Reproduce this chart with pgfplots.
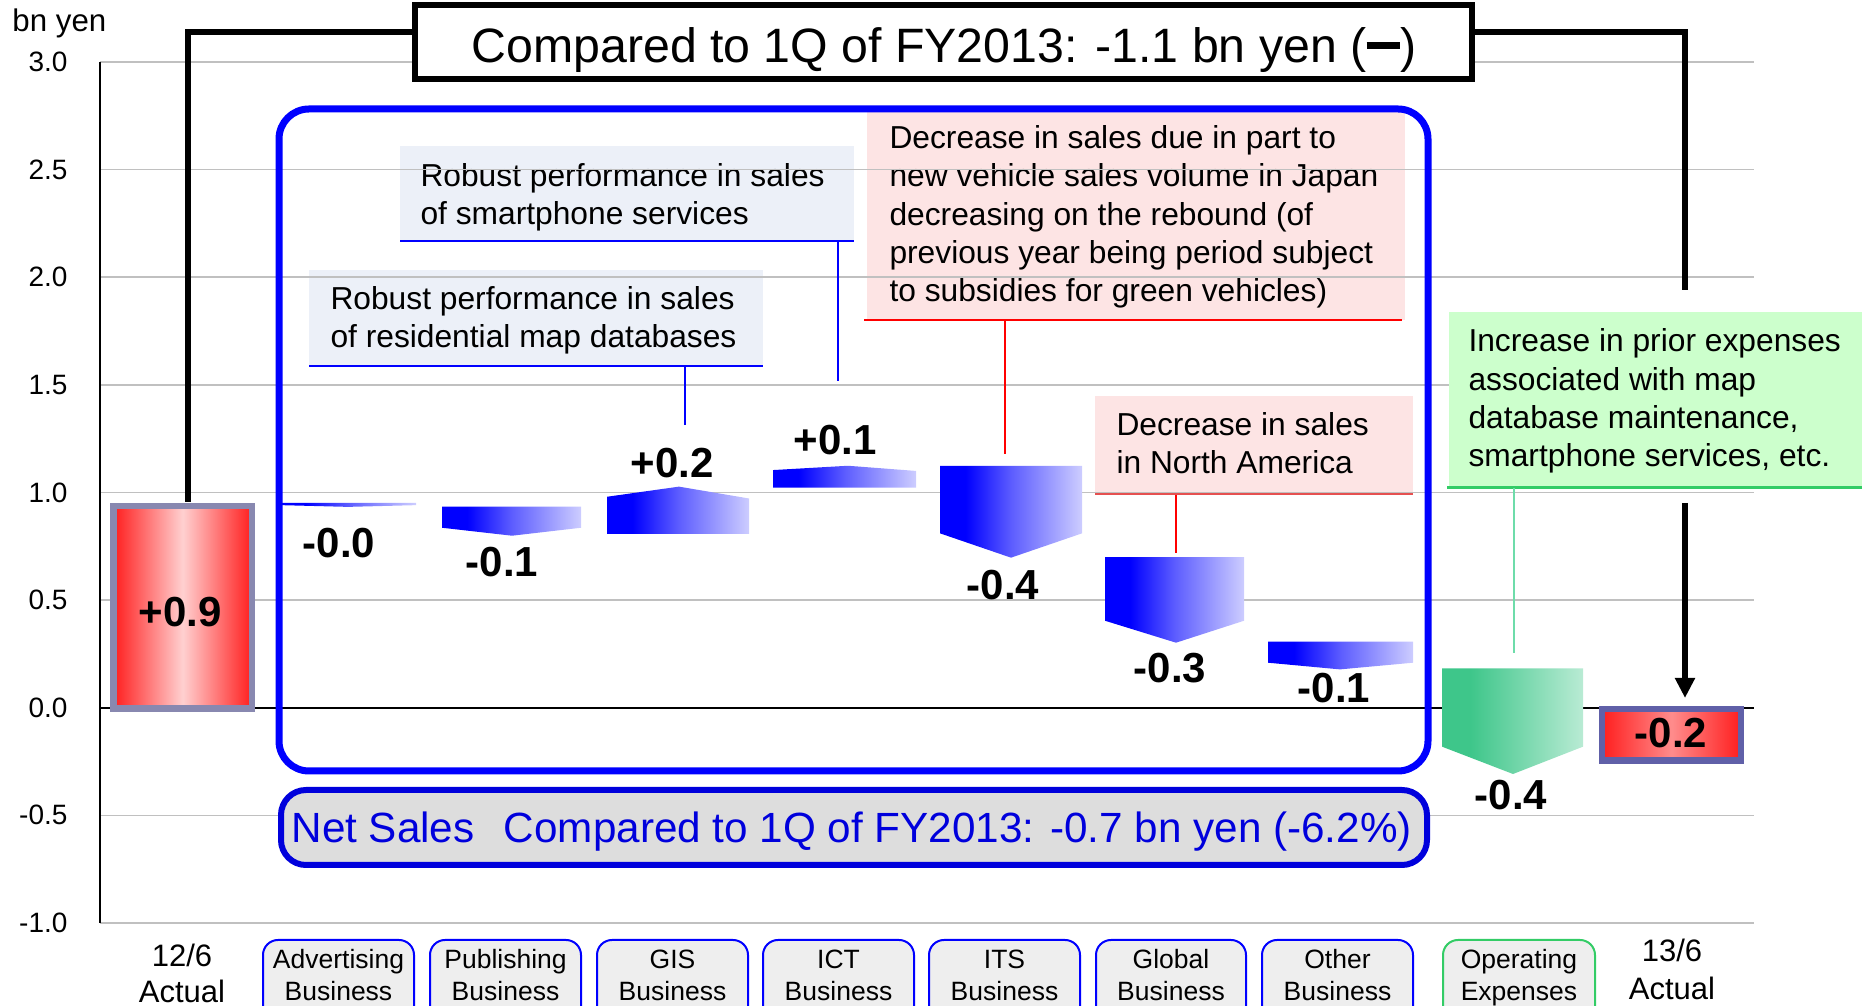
\documentclass[border=0pt]{standalone}
\usepackage{pgfplots}
\pgfplotsset{compat=1.18}
\usepackage{fontspec}
\setmainfont{Liberation Sans}
\usetikzlibrary{arrows.meta}
\definecolor{gridgray}{RGB}{192,192,192}
\definecolor{netblue}{RGB}{0,0,220}
\definecolor{netfill}{RGB}{221,221,221}
\definecolor{boxblue}{RGB}{236,240,248}
\definecolor{pinkfill}{RGB}{253,228,228}
\definecolor{pinkline}{RGB}{230,80,80}
\definecolor{greenfill}{RGB}{204,255,204}
\definecolor{greenline}{RGB}{51,204,102}
\definecolor{greenlead}{RGB}{110,220,170}
\definecolor{labfill}{RGB}{238,238,238}
\definecolor{frameA}{RGB}{136,136,176}
\definecolor{frameB}{RGB}{96,96,168}
\definecolor{barL}{RGB}{0,0,255}
\definecolor{barR}{RGB}{205,205,255}
\definecolor{redE}{RGB}{255,30,30}
\definecolor{redC}{RGB}{255,208,208}
\definecolor{redCC}{RGB}{255,140,140}
\definecolor{grnL}{RGB}{62,198,138}
\definecolor{grnR}{RGB}{185,235,212}
\pgfdeclarehorizontalshading{bluebar}{100bp}{color(0bp)=(barL); color(25bp)=(barL); color(34bp)=(barL); color(50bp)=(barL!55!barR); color(75bp)=(barR); color(100bp)=(barR)}
\pgfdeclarehorizontalshading{greenbar}{100bp}{color(0bp)=(grnL); color(25bp)=(grnL); color(35bp)=(grnL); color(75bp)=(grnR); color(100bp)=(grnR)}
\newcommand\fs[1]{\fontsize{#1}{#1}\selectfont}
\tikzset{px/.style={shift={(-40pt,369.18pt)},x=0.4pt,y=-0.4pt}}
\begin{document}
\begin{tikzpicture}
% ---------- background annotation boxes ----------
\begin{scope}[px]
 \fill[boxblue] (400,146) rectangle (854,240);
 \fill[boxblue] (309,270) rectangle (763,366);
 \fill[pinkfill] (867,110) rectangle (1405,320);
 \fill[pinkfill] (1095,396) rectangle (1413,494);
 \tikzset{every node/.style={anchor=base west, inner sep=0pt, font=\fs{12.7}}}
 \node at (420,187) {Robust performance in sales};
 \node at (420,225) {of smartphone services};
 \node at (330,310) {Robust performance in sales};
 \node at (330,348) {of residential map databases};
 \node at (889,149) {Decrease in sales due in part to};
 \node at (889,187) {new vehicle sales volume in Japan};
 \node at (889,226) {decreasing on the rebound (of};
 \node at (889,264) {previous year being period subject};
 \node at (889,302) {to subsidies for green vehicles)};
 \node at (1116,436) {Decrease in sales};
 \node at (1116,474) {in North America};
\end{scope}

\begin{axis}[
 x=0.4pt, y=86.1pt,
 xmin=100, xmax=1754, ymin=-1, ymax=3,
 axis line style={draw=none},
 xtick=\empty,
 ytick={-1,-0.5,0,0.5,1,1.5,2,2.5,3},
 ymajorgrids, grid style={gridgray, line width=0.6pt},
 major tick length=0pt,
 yticklabel style={anchor=east, inner sep=0pt, xshift=-12.8pt, font=\fs{11.2},
   /pgf/number format/fixed, /pgf/number format/fixed zerofill,
   /pgf/number format/precision=1, /pgf/number format/assume math mode=true},
 clip=false,
]
\draw[black, line width=0.6pt] (axis cs:100,-1) -- (axis cs:100,3);
\draw[black, line width=0.7pt] (axis cs:100,0) -- (axis cs:1754,0);
% 12/6 Actual
\addplot[draw=frameA, line width=2.6pt, left color=redE, right color=redE, middle color=redC]
  coordinates {(113.5,-0.004) (252,-0.004) (252,0.937) (113.5,0.937)} -- cycle;
% Advertising
\addplot[draw=none, shade, shading=bluebar]
  coordinates {(281,0.952) (416,0.952) (416,0.941) (348,0.933) (281,0.941)} -- cycle;
% Publishing
\addplot[draw=none, shade, shading=bluebar]
  coordinates {(442,0.934) (581,0.934) (581,0.836) (512,0.799) (442,0.836)} -- cycle;
% GIS
\addplot[draw=none, shade, shading=bluebar]
  coordinates {(607,0.807) (749,0.807) (749,0.972) (679,1.027) (607,0.980)} -- cycle;
% ICT
\addplot[draw=none, shade, shading=bluebar]
  coordinates {(773,1.022) (916,1.022) (916,1.100) (848,1.124) (773,1.104)} -- cycle;
% ITS
\addplot[draw=none, shade, shading=bluebar]
  coordinates {(940,1.124) (1082,1.124) (1082,0.810) (1011,0.697) (940,0.810)} -- cycle;
% Global
\addplot[draw=none, shade, shading=bluebar]
  coordinates {(1105,0.699) (1244,0.699) (1244,0.404) (1176,0.302) (1105,0.404)} -- cycle;
% Other
\addplot[draw=none, shade, shading=bluebar]
  coordinates {(1268,0.307) (1413,0.307) (1413,0.209) (1340,0.178) (1268,0.209)} -- cycle;
% Operating expenses
\addplot[draw=none, shade, shading=greenbar]
  coordinates {(1442,0.183) (1583,0.183) (1583,-0.181) (1513,-0.308) (1442,-0.181)} -- cycle;
% 13/6 Actual
\addplot[draw=frameB, line width=2.6pt, left color=redE, right color=redE, middle color=redCC]
  coordinates {(1602,-0.007) (1741,-0.007) (1741,-0.245) (1602,-0.245)} -- cycle;
% value labels
\tikzset{every node/.style={font=\bfseries\fs{16.8}, inner sep=0pt}}
\node at (axis cs:180,0.4446) {+0.9};
\node at (axis cs:339,0.765) {-0.0};
\node at (axis cs:502,0.677) {-0.1};
\node at (axis cs:672,1.137) {+0.2};
\node at (axis cs:835,1.244) {+0.1};
\node at (axis cs:1003,0.570) {-0.4};
\node at (axis cs:1170,0.184) {-0.3};
\node at (axis cs:1334,0.0915) {-0.1};
\node at (axis cs:1511,-0.406) {-0.4};
\node at (axis cs:1671,-0.118) {-0.2};
\end{axis}

% ---------- foreground ----------
\begin{scope}[px]
 % green annotation box (opaque over grid)
 \fill[greenfill] (1449,312) rectangle (1862,487);
 \begin{scope}[every node/.style={anchor=base west, inner sep=0pt, font=\fs{12.7}}]
 \node at (1468,352) {Increase in prior expenses};
 \node at (1468,391) {associated with map};
 \node at (1468,429) {database maintenance,};
 \node at (1468,467) {smartphone services, etc.};
 \end{scope}
 % leader lines and box bottom lines
 \draw[blue, line width=0.8pt] (400,240.7) -- (854,240.7);
 \draw[blue, line width=0.5pt] (838,241) -- (838,381);
 \draw[blue, line width=0.8pt] (309,366) -- (763,366);
 \draw[blue, line width=0.5pt] (685,366) -- (685,425);
 \draw[red, line width=0.8pt] (864,320.5) -- (1402,320.5);
 \draw[red, line width=0.5pt] (1005,321) -- (1005,454);
 \draw[pinkline, line width=1pt] (1095,494) -- (1413,494);
 \draw[red, line width=0.5pt] (1176,495) -- (1176,553);
 \draw[greenline, line width=1pt] (1447,487.5) -- (1862,487.5);
 \draw[greenlead, line width=0.8pt] (1514,488) -- (1514,653);
 % big blue frame
 \draw[blue, line width=2.8pt, rounded corners=12pt] (279,109) rectangle (1428,771);
 % net sales box
 \draw[netblue, fill=netfill, line width=2.4pt, rounded corners=10pt] (281,790) rectangle (1427,865);
 \node[anchor=base west, inner sep=0pt, text=netblue, font=\fs{16.9}] at (291,843)
   {Net Sales\hspace{7pt} Compared to 1Q of FY2013: -0.7 bn yen (-6.2\%)};
 % title box and connectors
 \draw[line width=2.7pt, line join=miter] (188,502) -- (188,32) -- (415,32);
 \draw[line width=2.7pt, line join=miter] (1472,32) -- (1685,32) -- (1685,290);
 \draw[line width=2.7pt, -{Triangle[width=7.6pt,length=8pt]}] (1685,503) -- (1685,698);
 \draw[line width=2.2pt, fill=white] (415,5) rectangle (1472,79);
 \node[anchor=base, inner sep=0pt, font=\fs{19.3}] at (944,63)
   {Compared to 1Q of FY2013: -1.1 bn yen (\rule[0.3em]{0.7em}{0.14em})};
 % y unit
 \node[anchor=base west, inner sep=0pt, font=\fs{12.5}] at (12,32) {bn yen};
 % category labels
 \foreach \l/\r/\a/\b in {263/414/Advertising/Business, 430/581/Publishing/Business,
    597/748/GIS/Business, 763/914/ICT/Business, 929/1080/ITS/Business,
    1096/1246/Global/Business, 1262/1413/Other/Business}{
   \draw[blue, fill=labfill, line width=0.8pt, rounded corners=6pt] (\l,940) rectangle (\r,1030);
   \node[anchor=base, inner sep=0pt, font=\fs{10.6}] at ({(\l+\r)/2},969) {\a};
   \node[anchor=base, inner sep=0pt, font=\fs{10.6}] at ({(\l+\r)/2},1001) {\b};
 }
 \draw[greenline, fill=labfill, line width=0.8pt, rounded corners=6pt] (1443,940) rectangle (1595,1030);
 \node[anchor=base, inner sep=0pt, font=\fs{10.6}] at (1519,969) {Operating};
 \node[anchor=base, inner sep=0pt, font=\fs{10.6}] at (1519,1001) {Expenses};
 \node[anchor=base, inner sep=0pt, font=\fs{12.4}] at (182,967) {12/6};
 \node[anchor=base, inner sep=0pt, font=\fs{12.4}] at (182,1003) {Actual};
 \node[anchor=base, inner sep=0pt, font=\fs{12.4}] at (1672,962) {13/6};
 \node[anchor=base, inner sep=0pt, font=\fs{12.4}] at (1672,1000) {Actual};
\end{scope}
\pgfresetboundingbox
\path[use as bounding box, px] (0,0) rectangle (1862,1006);
\end{tikzpicture}
\end{document}
